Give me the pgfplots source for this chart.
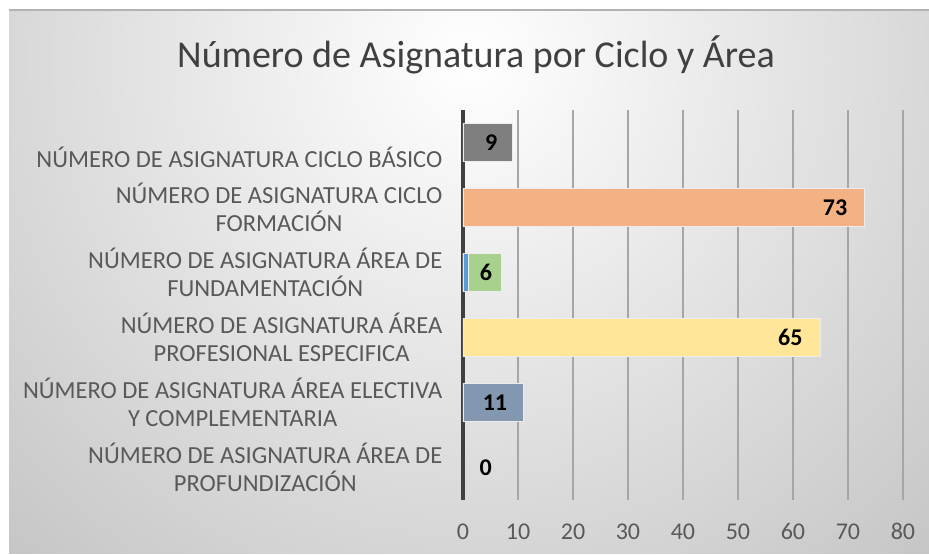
\documentclass[border=0pt]{standalone}
\usepackage{fontspec}
\setmainfont{Carlito}
\usepackage{pgfplots}
\pgfplotsset{compat=1.18}
\definecolor{txt}{HTML}{595959}
\definecolor{ttl}{HTML}{404040}
\definecolor{gridc}{HTML}{A6A6A6}
\definecolor{cgray}{HTML}{7F7F7F}
\definecolor{corange}{HTML}{F4B183}
\definecolor{cblue}{HTML}{5B9BD5}
\definecolor{cgreen}{HTML}{A9D18E}
\definecolor{cyellow}{HTML}{FFE699}
\definecolor{cslate}{HTML}{8497B0}
\definecolor{bgout}{HTML}{C2C2C2}

\begin{document}
\begin{tikzpicture}
\begin{scope}[x=0.75pt,y=0.75pt]
\useasboundingbox (0,0) rectangle (929,555);
% chart area background
\begin{scope}
\clip (9,1) rectangle (929,545);
\shade[inner color=white, outer color=bgout] (470,495) circle (720);
\end{scope}
\draw[gray!60, line width=1.2pt] (9,545) -- (929,545);
\node[font=\fontsize{28.5}{34}\selectfont, text=ttl] at (476,500) {Número de Asignatura por Ciclo y Área};
\end{scope}

\begin{axis}[
    at={(347.25pt,41.25pt)}, anchor=south west,
    scale only axis,
    width=330pt, height=292.5pt,
    xbar, bar shift=0pt,
    bar width=28.5pt,
    xmin=0, xmax=80,
    xtick={0,10,...,80},
    ymin=-0.5, ymax=5.5,
    ytick={0,...,5},
    yticklabels={
        {NÚMERO DE ASIGNATURA ÁREA DE\\PROFUNDIZACIÓN},
        {NÚMERO DE ASIGNATURA ÁREA ELECTIVA\\Y COMPLEMENTARIA},
        {NÚMERO DE ASIGNATURA ÁREA\\PROFESIONAL ESPECIFICA},
        {NÚMERO DE ASIGNATURA ÁREA DE\\FUNDAMENTACIÓN},
        {NÚMERO DE ASIGNATURA CICLO\\FORMACIÓN},
        {\strut\\NÚMERO DE ASIGNATURA CICLO BÁSICO}},
    yticklabel style={font=\fontsize{18.4}{21}\selectfont, text=txt, align=center, anchor=east, xshift=-12pt, yshift=0pt},
    xticklabel style={font=\fontsize{18}{20}\selectfont, text=txt, anchor=north, text height=12pt, text depth=0pt, yshift=-14pt},
    /pgf/number format/assume math mode=true,
    separate axis lines,
    axis x line*=bottom,
    axis y line*=left,
    x axis line style={draw=none},
    y axis line style={draw=ttl, line width=2.3pt},
    major tick length=0pt,
    xmajorgrids,
    grid style={draw=gridc, line width=1.4pt},
    point meta=explicit,
    nodes near coords,
    nodes near coords style={font=\bfseries\fontsize{18}{20}\selectfont, text=black},
    every axis plot/.append style={draw=white!85!gray, line width=0.8pt},
]
\addplot[fill=cgray, nodes near coords style={anchor=center, xshift=-16pt}]
    coordinates {(9,5) [9]};
\addplot[fill=corange, nodes near coords style={anchor=east, xshift=-9.25pt}]
    coordinates {(73,4) [73]};
% green segment (6) sits after a blue segment of 1
\addplot[fill=cgreen, nodes near coords style={anchor=center, xshift=-11.6pt}]
    coordinates {(7,3) [6]};
\addplot[fill=cblue, nodes near coords={}]
    coordinates {(1,3) [1]};
\addplot[fill=cyellow, nodes near coords style={anchor=east, xshift=-9.75pt}]
    coordinates {(65,2) [65]};
\addplot[fill=cslate, nodes near coords style={anchor=center, xshift=-21.4pt}]
    coordinates {(11,1) [11]};
\addplot[draw=none, fill=none, nodes near coords style={anchor=center, xshift=17pt}]
    coordinates {(0,0) [0]};
\end{axis}
\end{tikzpicture}
\end{document}
